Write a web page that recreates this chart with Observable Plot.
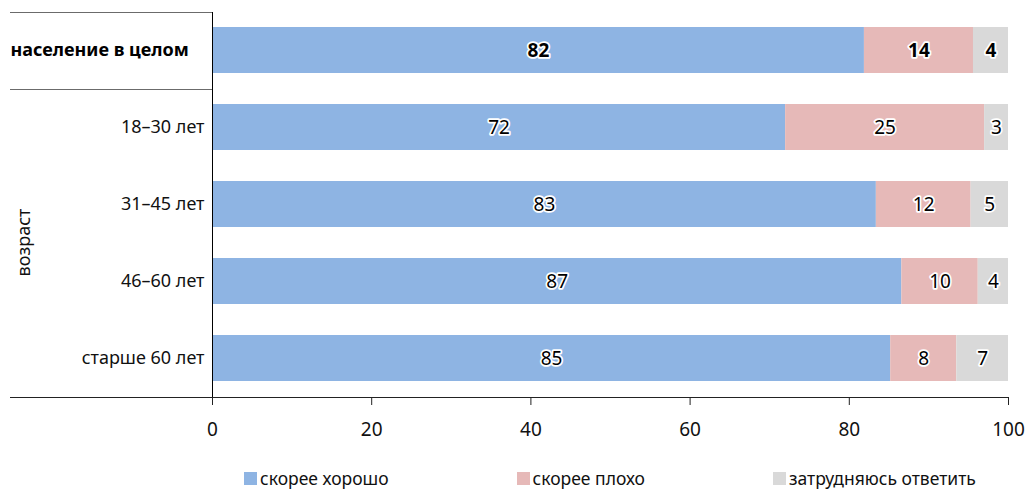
<!DOCTYPE html>
<html>
<head>
<meta charset="utf-8">
<script src="https://cdn.jsdelivr.net/npm/d3@7"></script>
<script src="https://cdn.jsdelivr.net/npm/@observablehq/plot@0.6"></script>
<style>
  html, body { margin: 0; padding: 0; background: #fff; }
  body { width: 1029px; height: 491px; overflow: hidden; font-family: "Noto Sans", "Open Sans", sans-serif; }
  #legend { display: flex; justify-content: center; gap: 128px; margin-left: 212px; width: 796px; padding-top: 21px; font-size: 17.5px; color: #111; }
  .item { display: flex; align-items: center; height: 14px; }
  .sw { width: 13px; height: 13px; margin-right: 3px; }
</style>
</head>
<body>
<div id="chart"></div>
<div id="legend"></div>
<script>
const groups = ["население в целом", "18–30 лет", "31–45 лет", "46–60 лет", "старше 60 лет"];
const answers = ["скорее хорошо", "скорее плохо", "затрудняюсь ответить"];
const good   = [81.9, 72.0, 83.4, 86.6, 85.2];
const bad    = [13.7, 25.0, 11.9,  9.6,  8.3];
const unsure = [ 4.4,  3.0,  4.7,  3.8,  6.5];
const colors = ["#8EB4E3", "#E6B9B8", "#D9D9D9"];
const xTicks = [0, 20, 40, 60, 80, 100];
const groupLabel = "возраст";

const series = [good, bad, unsure];
const data = [];
groups.forEach((g, i) => answers.forEach((a, j) => data.push({group: g, answer: a, value: series[j][i]})));

const FONT = '"Noto Sans", "Open Sans", sans-serif';

const labelOpts = (filter, weight) => Plot.stackX({
  x: "value", y: "group", z: "answer",
  text: d => Math.round(d.value),
  filter,
  fill: "#000", stroke: "white", strokeWidth: 3.5, paintOrder: "stroke",
  fontWeight: weight, fontSize: 19
});

const plot = Plot.plot({
  width: 1029, height: 450,
  marginLeft: 212, marginRight: 21, marginTop: 12, marginBottom: 53,
  style: {fontFamily: FONT, fontSize: "18px", color: "#111", background: "#fff"},
  x: {domain: [0, 100], label: null},
  y: {domain: groups, paddingInner: 0.4, paddingOuter: 0.2, axis: null},
  color: {domain: answers, range: colors},
  marks: [
    Plot.barX(data, Plot.stackX({x: "value", y: "group", fill: "answer"})),
    Plot.text(data, labelOpts(d => d.group === groups[0], "bold")),
    Plot.text(data, labelOpts(d => d.group !== groups[0], "normal")),
    Plot.text(groups.slice(1), {y: d => d, frameAnchor: "left", textAnchor: "end", dx: -8, fill: "#111", fontSize: 18}),
    Plot.text(groups.slice(0, 1), {y: d => d, frameAnchor: "left", textAnchor: "start", dx: -202, fill: "#000", fontWeight: "bold", fontSize: 18}),
    Plot.axisX({ticks: xTicks, tickFormat: d => d, tickSize: 8, tickPadding: 17, stroke: "#222", fill: "#111", fontSize: 19, label: null}),
    Plot.ruleX([0], {stroke: "#000"})
  ]
});
document.getElementById("chart").appendChild(plot);

// separators and group title, positioned from the plot's scales
const xs = plot.scale("x"), ys = plot.scale("y");
const LEFT = 10;
const svgSel = d3.select(plot);
const gSel = svgSel.append("g");
const yTop = ys.range[0], yBottom = ys.range[1];
const sep = ys.apply(groups[1]) - (ys.step - ys.bandwidth) / 2;
gSel.append("line").attr("x1", LEFT).attr("x2", xs.apply(0)).attr("y1", yTop + 0.5).attr("y2", yTop + 0.5).attr("stroke", "#6b6b6b");
gSel.append("line").attr("x1", LEFT).attr("x2", xs.apply(0)).attr("y1", Math.round(sep) + 0.5).attr("y2", Math.round(sep) + 0.5).attr("stroke", "#6b6b6b");
gSel.append("line").attr("x1", LEFT).attr("x2", xs.apply(100)).attr("y1", yBottom + 0.5).attr("y2", yBottom + 0.5).attr("stroke", "#222");
const mid = (ys.apply(groups[1]) + ys.apply(groups[groups.length - 1]) + ys.bandwidth) / 2;
gSel.append("text").attr("transform", `translate(30,${mid}) rotate(-90)`).attr("text-anchor", "middle")
  .attr("font-family", FONT).attr("font-size", 18).attr("fill", "#111").text(groupLabel);

// legend
const legend = d3.select("#legend");
answers.forEach((a, i) => {
  const it = legend.append("div").attr("class", "item");
  it.append("div").attr("class", "sw").style("background", colors[i]);
  it.append("span").text(a);
});
</script>
</body>
</html>
